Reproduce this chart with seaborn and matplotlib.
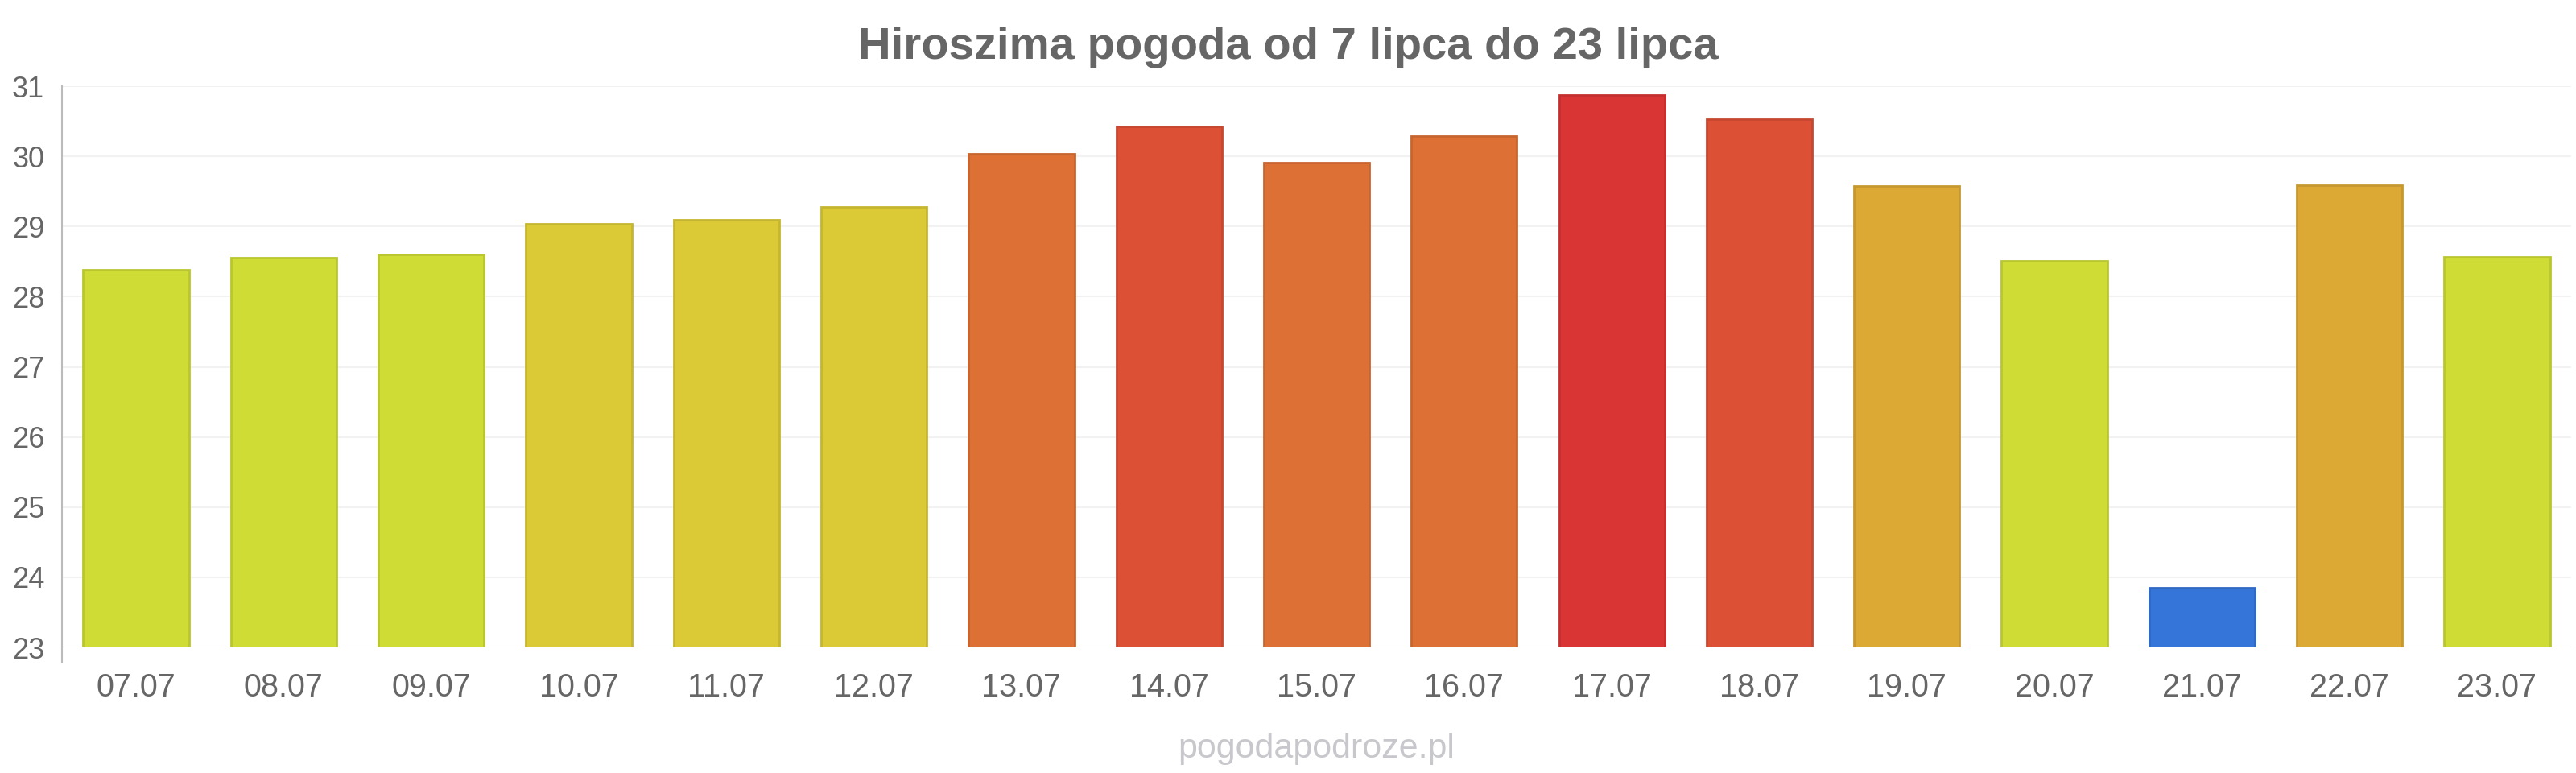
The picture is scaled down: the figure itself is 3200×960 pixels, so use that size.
import numpy as np
import pandas as pd
import seaborn as sns
import matplotlib.pyplot as plt
from matplotlib.colors import to_rgb

days = ['07.07', '08.07', '09.07', '10.07', '11.07', '12.07', '13.07', '14.07', '15.07',
        '16.07', '17.07', '18.07', '19.07', '20.07', '21.07', '22.07', '23.07']
temps = [28.38, 28.56, 28.6, 29.04, 29.1, 29.28, 30.04, 30.43, 29.91,
         30.29, 30.87, 30.53, 29.58, 28.51, 23.85, 29.59, 28.57]
bar_colors = ['#cfdc35', '#cfdc35', '#cfdc35', '#dbca35', '#dbca35', '#dbca35', '#dd7034',
              '#dc5035', '#dd7034', '#dd7034', '#da3535', '#dc5035', '#dca935', '#cfdc35',
              '#3575da', '#dca935', '#cfdc35']
yticks = [23, 24, 25, 26, 27, 28, 29, 30, 31]

df = pd.DataFrame({'day': days, 'temp': temps})

sns.set_style("white")
plt.rcParams['font.family'] = ['Liberation Sans', 'DejaVu Sans']

fig = plt.figure(figsize=(32, 9.6), dpi=100)
ax = fig.add_axes([0.0242, 0.1625, 0.9738, 0.726])

sns.barplot(data=df, x='day', y='temp', hue='day', palette=bar_colors,
            legend=False, width=0.716, ax=ax, saturation=1)

for patch, c in zip(ax.patches, bar_colors):
    edge = tuple(v * 0.9 for v in to_rgb(c))
    patch.set_edgecolor(edge)
    patch.set_linewidth(2)

ax.set_ylim(23, 31)
ax.set_xlim(-0.5, len(days) - 0.5)
ax.set_yticks(yticks)
ax.yaxis.grid(True, color='#f2f2f2', linewidth=1.5)
ax.set_axisbelow(True)
ax.set_xlabel('')
ax.set_ylabel('')

for s in ['top', 'right', 'bottom']:
    ax.spines[s].set_visible(False)
ax.spines['left'].set_color('#bbbbbb')
ax.spines['left'].set_linewidth(1.5)
ax.spines['left'].set_bounds(22.78, 31)

ax.tick_params(axis='y', length=14, width=1.5, color='#f2f2f2', pad=2,
               labelsize=26, labelcolor='#666666')
ax.tick_params(axis='x', length=0, pad=22, labelsize=28.5, labelcolor='#666666')

fig.text(0.5, 0.924, 'Hiroszima pogoda od 7 lipca do 23 lipca', ha='center', va='baseline',
         fontsize=40.5, fontweight='bold', color='#666666')
fig.text(0.511, 0.0198, 'pogodapodroze.pl', ha='center', va='baseline',
         fontsize=31, color='#c8c8cc')

fig.savefig('out.png', dpi=100)
